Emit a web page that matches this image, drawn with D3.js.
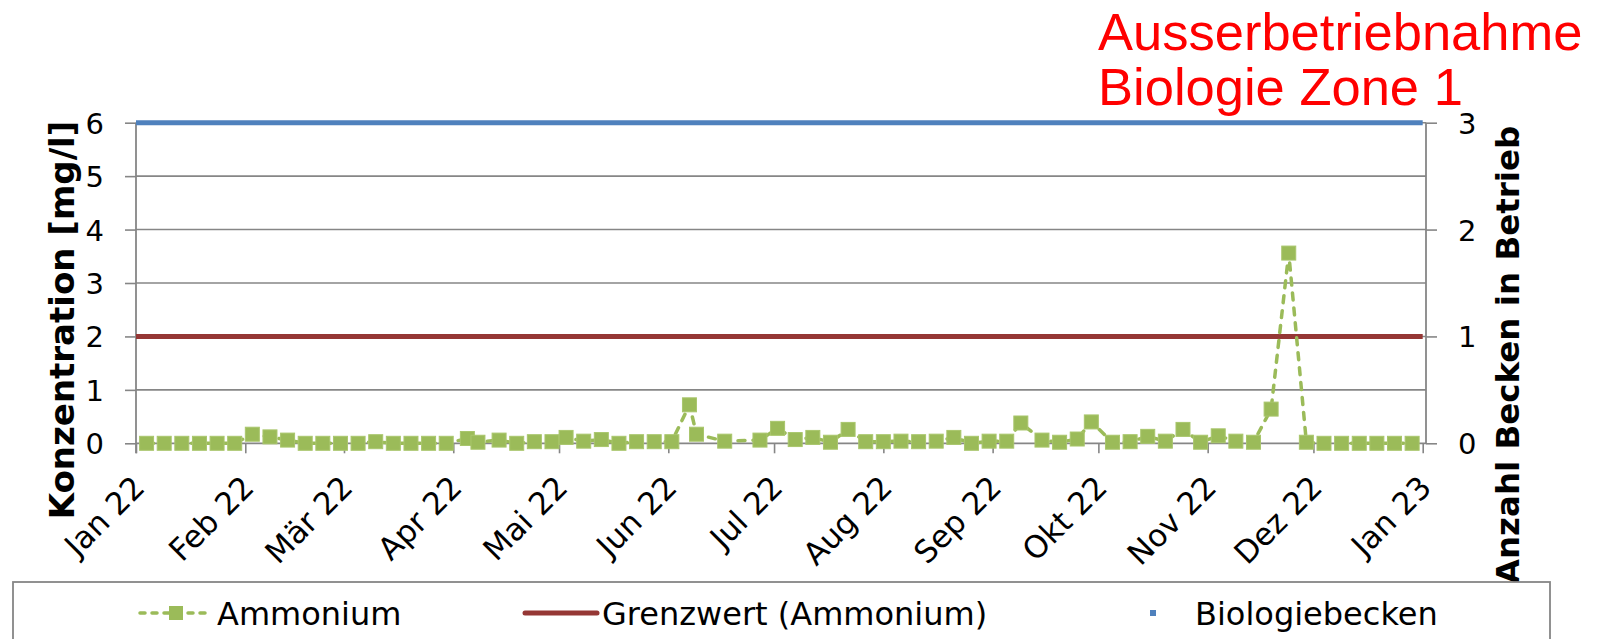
<!DOCTYPE html>
<html>
<head>
<meta charset="utf-8">
<script src="https://cdn.jsdelivr.net/npm/d3@7"></script>
<style>
  body { margin: 0; background: #fff; }
  svg text { font-family: "DejaVu Sans", Verdana, sans-serif; }
</style>
</head>
<body>
<svg id="chart" width="1599" height="639"></svg>
<script>
// Ammonium samples (date, mg/l)
const sampleDates = [
  "2022-01-04","2022-01-09","2022-01-14","2022-01-19","2022-01-24","2022-01-29",
  "2022-02-03","2022-02-08","2022-02-13","2022-02-18","2022-02-23","2022-02-28",
  "2022-03-05","2022-03-10","2022-03-15","2022-03-20","2022-03-25","2022-03-30",
  "2022-04-05","2022-04-08","2022-04-14","2022-04-19","2022-04-24","2022-04-29",
  "2022-05-03","2022-05-08","2022-05-13","2022-05-18","2022-05-23","2022-05-28",
  "2022-06-02","2022-06-07","2022-06-09","2022-06-17","2022-06-27",
  "2022-07-02","2022-07-07","2022-07-12","2022-07-17","2022-07-22","2022-07-27",
  "2022-08-01","2022-08-06","2022-08-11","2022-08-16","2022-08-21","2022-08-26","2022-08-31",
  "2022-09-05","2022-09-09","2022-09-15","2022-09-20","2022-09-25","2022-09-29",
  "2022-10-05","2022-10-10","2022-10-15","2022-10-20","2022-10-25","2022-10-30",
  "2022-11-04","2022-11-09","2022-11-14","2022-11-19","2022-11-24","2022-11-29",
  "2022-12-04","2022-12-09","2022-12-14","2022-12-19","2022-12-24","2022-12-29"
];
const ammonium = [
  0.00, 0.00, 0.00, 0.00, 0.00, 0.00,
  0.17, 0.12, 0.06, 0.00, 0.00, 0.00,
  0.00, 0.03, 0.00, 0.00, 0.00, 0.00,
  0.09, 0.02, 0.06, 0.00, 0.03, 0.03,
  0.11, 0.04, 0.07, 0.00, 0.03, 0.03,
  0.03, 0.72, 0.17, 0.04, 0.06,
  0.28, 0.07, 0.11, 0.02, 0.26, 0.03,
  0.03, 0.04, 0.03, 0.04, 0.11, 0.00, 0.04,
  0.04, 0.38, 0.06, 0.02, 0.08, 0.40,
  0.02, 0.03, 0.13, 0.04, 0.26, 0.02,
  0.14, 0.04, 0.02, 0.64, 3.56, 0.02,
  0.00, 0.00, 0.00, 0.00, 0.00, 0.00
];
// Grenzwert (Ammonium), left axis
const limitDates = ["2022-01-01", "2023-01-01"];
const limitValues = [2, 2];
// Biologiebecken in Betrieb, right axis
const basinDates = ["2022-01-01", "2023-01-01"];
const basinValues = [3, 3];

const monthLabels = ["Jan 22","Feb 22","Mär 22","Apr 22","Mai 22","Jun 22","Jul 22",
                     "Aug 22","Sep 22","Okt 22","Nov 22","Dez 22","Jan 23"];
const leftTicks = [0, 1, 2, 3, 4, 5, 6];
const rightTicks = [0, 1, 2, 3];
const seriesNames = ["Ammonium", "Grenzwert (Ammonium)", "Biologiebecken"];

const parseDate = d3.timeParse("%Y-%m-%d");
const plot = {left: 136, right: 1426, top: 122.7, bottom: 443.3};
const green = "#9BBB59", red = "#953735", blue = "#4F81BD", grey = "#868686";

const svg = d3.select("#chart");

const x = d3.scaleTime()
    .domain([parseDate("2022-01-01"), parseDate("2023-01-01")])
    .range([plot.left, 1422.7]);
const y = d3.scaleLinear().domain([0, 6]).range([plot.bottom, plot.top]);
const y2 = d3.scaleLinear().domain([0, 3]).range([plot.bottom, plot.top]);

// gridlines
svg.append("g").selectAll("line")
    .data(leftTicks.slice(1))
    .join("line")
    .attr("x1", plot.left).attr("x2", plot.right)
    .attr("y1", d => y(d)).attr("y2", d => y(d))
    .attr("stroke", grey).attr("stroke-width", 1.6);

// left axis
const yAxis = d3.axisLeft(y).tickValues(leftTicks).tickSize(11).tickPadding(21).tickFormat(d3.format("d"));
const gy = svg.append("g").attr("transform", "translate(" + plot.left + ",0)").call(yAxis);
gy.select(".domain").remove();
gy.selectAll(".tick line").attr("stroke", grey).attr("stroke-width", 1.6);
gy.selectAll(".tick text").attr("font-size", 29).attr("fill", "#000").attr("dy", "0.36em");
svg.append("line")
    .attr("x1", plot.left).attr("x2", plot.left)
    .attr("y1", plot.top).attr("y2", plot.bottom + 10)
    .attr("stroke", grey).attr("stroke-width", 1.8);

// right axis
const y2Axis = d3.axisRight(y2).tickValues(rightTicks).tickSize(11).tickPadding(21).tickFormat(d3.format("d"));
const gy2 = svg.append("g").attr("transform", "translate(" + plot.right + ",0)").call(y2Axis);
gy2.select(".domain").remove();
gy2.selectAll(".tick line").attr("stroke", grey).attr("stroke-width", 1.6);
gy2.selectAll(".tick text").attr("font-size", 29).attr("fill", "#000").attr("dy", "0.36em");
svg.append("line")
    .attr("x1", plot.right).attr("x2", plot.right)
    .attr("y1", plot.top).attr("y2", plot.bottom)
    .attr("stroke", grey).attr("stroke-width", 1.8);

// x axis
const monthTicks = d3.timeMonth.range(parseDate("2022-01-01"), parseDate("2023-01-02"));
const xAxis = d3.axisBottom(x).tickValues(monthTicks).tickSize(10).tickFormat((d, i) => monthLabels[i]);
const gx = svg.append("g").attr("transform", "translate(0," + plot.bottom + ")").call(xAxis);
gx.select(".domain").remove();
gx.selectAll(".tick line").attr("stroke", grey).attr("stroke-width", 1.6);
gx.selectAll(".tick text")
    .attr("font-size", 31).attr("fill", "#000")
    .attr("text-anchor", "end")
    .attr("dy", null)
    .attr("y", 0)
    .attr("transform", "translate(10,46) rotate(-45)");
svg.append("line")
    .attr("x1", plot.left).attr("x2", plot.right)
    .attr("y1", plot.bottom).attr("y2", plot.bottom)
    .attr("stroke", grey).attr("stroke-width", 1.8);

// Biologiebecken (right axis)
const basinRows = basinDates.map((d, i) => ({date: parseDate(d), v: basinValues[i]}));
svg.append("path")
    .datum(basinRows)
    .attr("fill", "none").attr("stroke", blue).attr("stroke-width", 5)
    .attr("d", d3.line().x(d => x(d.date)).y(d => y2(d.v)));

// Grenzwert
const limitRows = limitDates.map((d, i) => ({date: parseDate(d), v: limitValues[i]}));
svg.append("path")
    .datum(limitRows)
    .attr("fill", "none").attr("stroke", red).attr("stroke-width", 5)
    .attr("d", d3.line().x(d => x(d.date)).y(d => y(d.v)));

// Ammonium
const rows = sampleDates.map((d, i) => ({date: parseDate(d), v: ammonium[i]}));
svg.append("path")
    .datum(rows)
    .attr("fill", "none").attr("stroke", green).attr("stroke-width", 3.5)
    .attr("stroke-dasharray", "7,8").attr("stroke-linecap", "round")
    .attr("d", d3.line().x(d => x(d.date)).y(d => y(d.v)));
svg.append("g").selectAll("rect")
    .data(rows)
    .join("rect")
    .attr("x", d => x(d.date) - 7).attr("y", d => y(d.v) - 7)
    .attr("width", 14).attr("height", 14)
    .attr("fill", green).attr("stroke", "#a9c66c").attr("stroke-width", 1);

// axis titles
svg.append("text")
    .attr("transform", "translate(74,320) rotate(-90)")
    .attr("text-anchor", "middle")
    .attr("font-size", 34).attr("font-weight", "bold")
    .text("Konzentration [mg/l]");
svg.append("text")
    .attr("transform", "translate(1519,355) rotate(-90)")
    .attr("text-anchor", "middle")
    .attr("font-size", 32.5).attr("font-weight", "bold")
    .text("Anzahl Becken in Betrieb");

// red annotation
const note = svg.append("text")
    .attr("fill", "#FF0000").attr("font-size", 52.5)
    .style("font-family", "'Liberation Sans', Arial, sans-serif");
note.append("tspan").attr("x", 1098).attr("y", 50).text("Ausserbetriebnahme");
note.append("tspan").attr("x", 1098).attr("y", 105).text("Biologie Zone 1");

// legend
svg.append("rect")
    .attr("x", 13).attr("y", 582).attr("width", 1537).attr("height", 100)
    .attr("fill", "#fff").attr("stroke", grey).attr("stroke-width", 1.8);
const leg = svg.append("g");
const ly = 613;
leg.append("line").attr("x1", 140).attr("x2", 209).attr("y1", ly).attr("y2", ly)
    .attr("stroke", green).attr("stroke-width", 3.5)
    .attr("stroke-dasharray", "5,7").attr("stroke-linecap", "round");
leg.append("rect").attr("x", 169).attr("y", ly - 7).attr("width", 14).attr("height", 14).attr("fill", green);
leg.append("line").attr("x1", 525).attr("x2", 597).attr("y1", ly).attr("y2", ly)
    .attr("stroke", red).attr("stroke-width", 5).attr("stroke-linecap", "round");
leg.append("rect").attr("x", 1150).attr("y", ly - 3).attr("width", 6).attr("height", 6).attr("fill", blue);
const legX = [217, 602, 1195];
leg.selectAll("text.lab")
    .data(seriesNames)
    .join("text")
    .attr("class", "lab")
    .attr("x", (d, i) => legX[i]).attr("y", 625)
    .attr("font-size", 32)
    .text(d => d);
</script>
</body>
</html>
